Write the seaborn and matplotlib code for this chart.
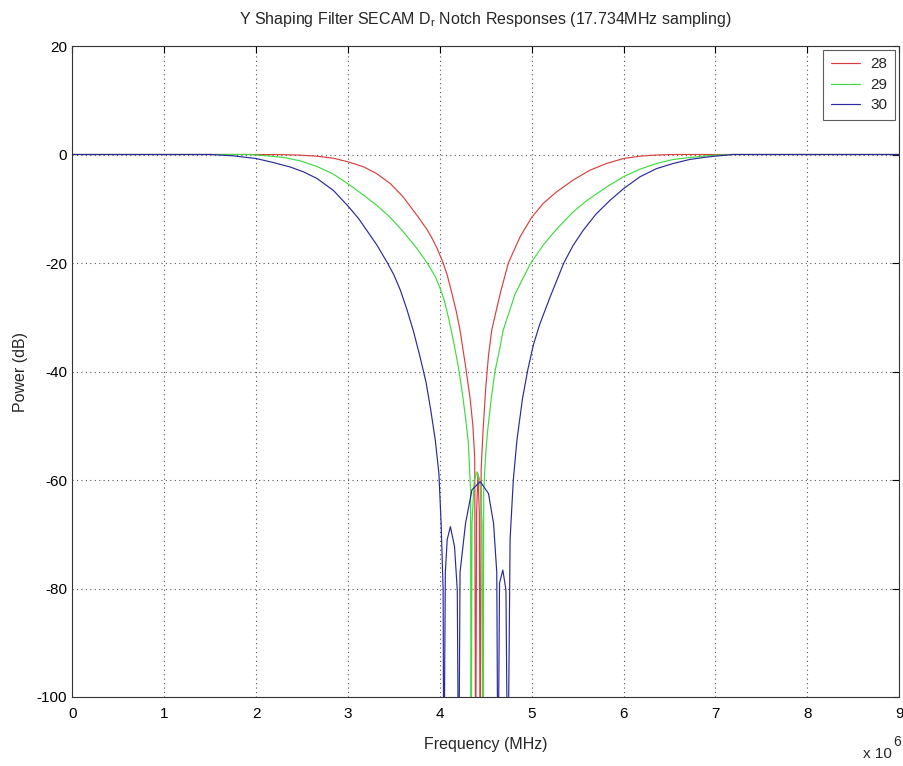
import numpy as np
import pandas as pd
import matplotlib
matplotlib.use("Agg")
import matplotlib.pyplot as plt
import seaborn as sns

# Notch responses of the Y shaping filter (frequency in MHz, power in dB)
freq_28 = [0.0, 2.0, 2.3, 2.48, 2.66, 2.84, 3.0, 3.17, 3.31, 3.46, 3.6, 3.75, 3.86,
           3.92, 3.97, 4.03, 4.08, 4.13, 4.18, 4.22, 4.28, 4.33, 4.36, 4.38, 4.39,
           4.40, 4.415, 4.43, 4.44, 4.45, 4.47, 4.50, 4.53, 4.565, 4.656, 4.746, 4.873,
           5.0, 5.127, 5.27, 5.453, 5.634, 5.815, 6.0, 6.18, 6.32, 6.54, 9.0]
power_28 = [0.0, 0.0, -0.03, -0.12, -0.31, -0.68, -1.35, -2.28, -3.5, -5.35, -7.8, -11.2, -13.8,
            -15.6, -17.3, -19.7, -22.2, -25.5, -29.0, -32.4, -39.0, -45.0, -50.0, -56.0, -120.0,
            -66.0, -59.0, -66.0, -120.0, -58.0, -51.0, -43.0, -37.0, -32.4, -25.7, -20.0, -15.2,
            -11.6, -9.0, -6.9, -4.7, -2.9, -1.66, -0.74, -0.31, -0.12, 0.0, 0.0]

freq_29 = [0.0, 1.93, 2.12, 2.3, 2.48, 2.66, 2.84, 3.0, 3.17, 3.315, 3.46, 3.6, 3.75,
           3.87, 3.95, 4.0, 4.05, 4.1, 4.15, 4.2, 4.25, 4.29, 4.31, 4.335, 4.34,
           4.35, 4.375, 4.405, 4.435, 4.46, 4.47, 4.478, 4.5, 4.52, 4.56, 4.6, 4.65,
           4.69, 4.82, 4.99, 5.13, 5.27, 5.45, 5.6, 5.815, 6.0, 6.18, 6.36, 6.54,
           6.72, 6.87, 7.0, 7.19, 9.0]
power_29 = [0.0, 0.0, -0.25, -0.55, -1.17, -2.2, -3.6, -5.4, -7.5, -9.4, -11.6, -14.2, -17.3,
            -20.2, -22.5, -24.5, -27.0, -30.5, -34.5, -39.0, -44.5, -50.0, -53.0, -62.0, -120.0,
            -68.0, -60.0, -58.5, -60.0, -68.0, -120.0, -62.0, -55.0, -51.0, -45.0, -40.0, -36.0,
            -32.4, -25.7, -20.0, -16.6, -13.8, -10.6, -8.5, -6.0, -4.1, -2.7, -1.66, -0.92,
            -0.55, -0.3, -0.12, 0.0, 0.0]

freq_30 = [0.0, 1.5, 1.57, 1.75, 2.0, 2.19, 2.37, 2.515, 2.66, 2.84, 3.0, 3.115, 3.205,
           3.315, 3.43, 3.5, 3.57, 3.64, 3.71, 3.78, 3.85, 3.9, 3.95, 3.99, 4.014,
           4.036, 4.043, 4.06, 4.08, 4.115, 4.16, 4.19, 4.205, 4.22, 4.28, 4.35, 4.44,
           4.53, 4.585, 4.62, 4.633, 4.65, 4.686, 4.72, 4.74, 4.765, 4.8, 4.84, 4.9,
           4.96, 5.02, 5.09, 5.2, 5.35, 5.45, 5.56, 5.7, 5.85, 6.0, 6.18, 6.36,
           6.54, 6.72, 6.87, 7.0, 7.12, 7.19, 9.0]
power_30 = [0.0, 0.0, -0.06, -0.25, -0.74, -1.5, -2.3, -3.2, -4.4, -6.6, -9.5, -11.8, -14.0,
            -16.7, -20.0, -22.2, -25.0, -28.5, -32.4, -37.0, -42.0, -47.0, -52.6, -58.8, -68.0,
            -80.3, -120.0, -77.0, -71.0, -68.6, -72.3, -80.3, -120.0, -77.0, -68.0, -61.8, -60.3,
            -62.5, -68.0, -77.0, -120.0, -79.0, -76.6, -80.3, -120.0, -71.0, -60.0, -52.6, -45.0,
            -39.5, -35.0, -31.2, -26.3, -20.0, -16.8, -14.0, -11.0, -8.5, -6.3, -4.1, -2.6,
            -1.66, -0.92, -0.55, -0.3, -0.12, 0.0, 0.0]

series_labels = ["28", "29", "30"]
line_colors = ["#d8403f", "#3fdc3f", "#2a2a9c"]

x_ticks = [0, 1, 2, 3, 4, 5, 6, 7, 8, 9]
y_ticks = [-100, -80, -60, -40, -20, 0, 20]

frames = []
for lab, f, p in zip(series_labels, [freq_28, freq_29, freq_30],
                     [power_28, power_29, power_30]):
    frames.append(pd.DataFrame({"Frequency": f, "Power": p, "N": lab}))
df = pd.concat(frames, ignore_index=True)

sns.set_style("white")
plt.rcParams["font.family"] = ["Liberation Sans", "DejaVu Sans"]
plt.rcParams["mathtext.fontset"] = "custom"
plt.rcParams["mathtext.rm"] = "Liberation Sans"
plt.rcParams["mathtext.it"] = "Liberation Sans"

W, H = 904, 766
fig = plt.figure(figsize=(W / 100, H / 100), dpi=100)
ax = fig.add_axes([72.5 / W, 1 - 697 / H, (899 - 72.5) / W, (697 - 46) / H])

sns.lineplot(data=df, x="Frequency", y="Power", hue="N", palette=line_colors,
             estimator=None, sort=False, linewidth=0.85, ax=ax)

ax.set_xlim(0, 9)
ax.set_ylim(-100, 20)
ax.set_xticks(x_ticks)
ax.set_yticks(y_ticks)
ax.set_xticklabels([str(t) for t in x_ticks])
ax.set_yticklabels([str(t) for t in y_ticks])
ax.tick_params(direction="in", length=5, width=0.8, labelsize=11,
               top=True, right=True, colors="black")
ax.tick_params(axis="x", pad=7)
ax.tick_params(axis="y", pad=4)
ax.grid(True, linestyle=(0, (1, 3)), color="#555555", linewidth=0.8)
for s in ax.spines.values():
    s.set_color("#333333")
    s.set_linewidth(0.8)

ax.set_title("Y Shaping Filter SECAM D$_\\mathregular{r}$ Notch Responses (17.734MHz sampling)",
             fontsize=11.5, pad=16)
ax.set_xlabel("Frequency (MHz)", fontsize=11.5, labelpad=12)
ax.set_ylabel("Power (dB)", fontsize=11.5, labelpad=6)

# axis multiplier for the frequency ticks (Hz = MHz x 10^6)
fig.text(892 / W, 1 - 754 / H, "x 10", ha="right", va="center", fontsize=11)
fig.text(893 / W, 1 - 742 / H, "6", ha="left", va="center", fontsize=10)

leg = ax.legend(loc="upper right", frameon=True, fancybox=False, fontsize=11,
                handlelength=1.9, borderaxespad=0.25, labelspacing=0.42,
                handletextpad=0.7, borderpad=0.5)
leg.get_frame().set_edgecolor("#333333")
leg.get_frame().set_linewidth(0.8)

fig.savefig("out.png", dpi=100, facecolor="white")
